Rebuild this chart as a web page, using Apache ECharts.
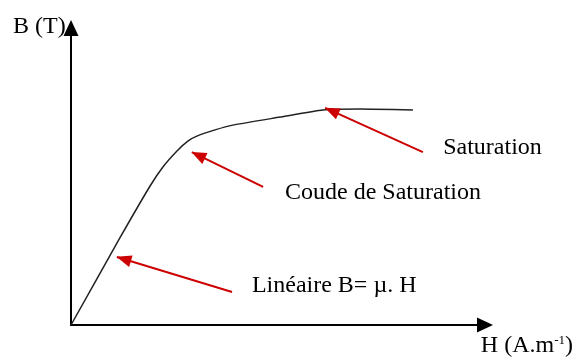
<!DOCTYPE html>
<html>
<head>
<meta charset="utf-8">
<script src="https://cdn.jsdelivr.net/npm/echarts@6/dist/echarts.min.js"></script>
<style>
html,body{margin:0;padding:0;background:#fff;}
#bh_chart{width:578px;height:358px;}
</style>
</head>
<body>
<div id="bh_chart"></div>
<script>
// courbe B(H) (unites arbitraires, axes de 0 a 100)
var h_data = [0, 11.8, 19.1, 22.2, 25.6, 28.3, 30.4, 34.8, 39.1, 50.5, 60.9, 69.8, 82.6];
var b_data = [0, 29.3, 46.8, 53.2, 58.6, 62.0, 63.6, 65.7, 67.3, 70.0, 72.4, 72.7, 72.4];

// fleches rouges : queue -> pointe
var arrow_from = [[38.9, 11.1], [46.4, 46.5], [85.0, 58.2]];
var arrow_to = [[11.1, 22.9], [29.2, 58.2], [61.4, 73.1]];

// textes des annotations
var label_text = ['Linéaire B= µ. H', 'Coude de Saturation', 'Saturation'];
var label_at = [[43.7, 13.1], [51.7, 44.4], [89.9, 59.6]];

// titres des axes
var x_name = ['H (A.m', '-1', ')'];
var y_name = 'B (T)';
var x_name_at = [99.0, -7.1];
var y_name_at = [-14.0, 100.5];

function m_onload(){
    var bh_chart = echarts.init(document.getElementById('bh_chart'));
    var points = new Array();
    for (var i = 0; i < h_data.length; i++) {
        points.push([h_data[i], b_data[i]]);
    }
    var arrows = new Array();
    for (var j = 0; j < arrow_from.length; j++) {
        arrows.push([{coord: arrow_from[j]}, {coord: arrow_to[j]}]);
    }
    var axis_style = {
        show: true,
        onZero: false,
        symbol: ['none', 'triangle'],
        symbolSize: [15, 16],
        lineStyle: {color: '#000', width: 2}
    };
    var bh_option = {
        animation: false,
        grid: {
            left: 71,
            right: 93,
            top: 28,
            bottom: 33
        },
        xAxis: {
            type: 'value',
            min: 0,
            max: 100,
            axisLine: axis_style,
            axisTick: {show: false},
            axisLabel: {show: false},
            splitLine: {show: false}
        },
        yAxis: {
            type: 'value',
            min: 0,
            max: 100,
            axisLine: axis_style,
            axisTick: {show: false},
            axisLabel: {show: false},
            splitLine: {show: false}
        },
        series: [
            {
                type: 'line',
                data: points,
                smooth: 0.2,
                symbol: 'none',
                lineStyle: {color: '#222', width: 1.5},
                markLine: {
                    silent: true,
                    symbol: ['none', 'triangle'],
                    symbolSize: [12, 15],
                    symbolOffset: [0, [0, 7]],
                    label: {show: false},
                    lineStyle: {color: '#cc0000', width: 2, type: 'solid'},
                    data: arrows
                }
            }
        ]
    };
    bh_chart.setOption(bh_option);

    // textes places avec les coordonnees du graphe
    var font = '"Liberation Serif", "Times New Roman", serif';
    var texts = new Array();
    for (var k = 0; k < label_text.length; k++) {
        var p = bh_chart.convertToPixel({gridIndex: 0}, label_at[k]);
        texts.push({
            type: 'text', x: p[0], y: p[1], silent: true,
            style: {text: label_text[k], fontSize: 24, fontFamily: font, fill: '#000', verticalAlign: 'middle'}
        });
    }
    var py = bh_chart.convertToPixel({gridIndex: 0}, y_name_at);
    texts.push({
        type: 'text', x: py[0], y: py[1], silent: true,
        style: {text: y_name, fontSize: 24, fontFamily: font, fill: '#000', verticalAlign: 'middle'}
    });
    var px = bh_chart.convertToPixel({gridIndex: 0}, x_name_at);
    texts.push({
        type: 'text', x: px[0], y: px[1], silent: true,
        style: {
            text: '{n|' + x_name[0] + '}{s|' + x_name[1] + '}{n|' + x_name[2] + '}',
            verticalAlign: 'middle',
            rich: {
                n: {fontSize: 24, fontFamily: font, fill: '#000'},
                s: {fontSize: 13, fontFamily: font, fill: '#000', padding: [0, 0, 12, 0]}
            }
        }
    });
    bh_chart.setOption({graphic: texts});
}
m_onload();
</script>
</body>
</html>
